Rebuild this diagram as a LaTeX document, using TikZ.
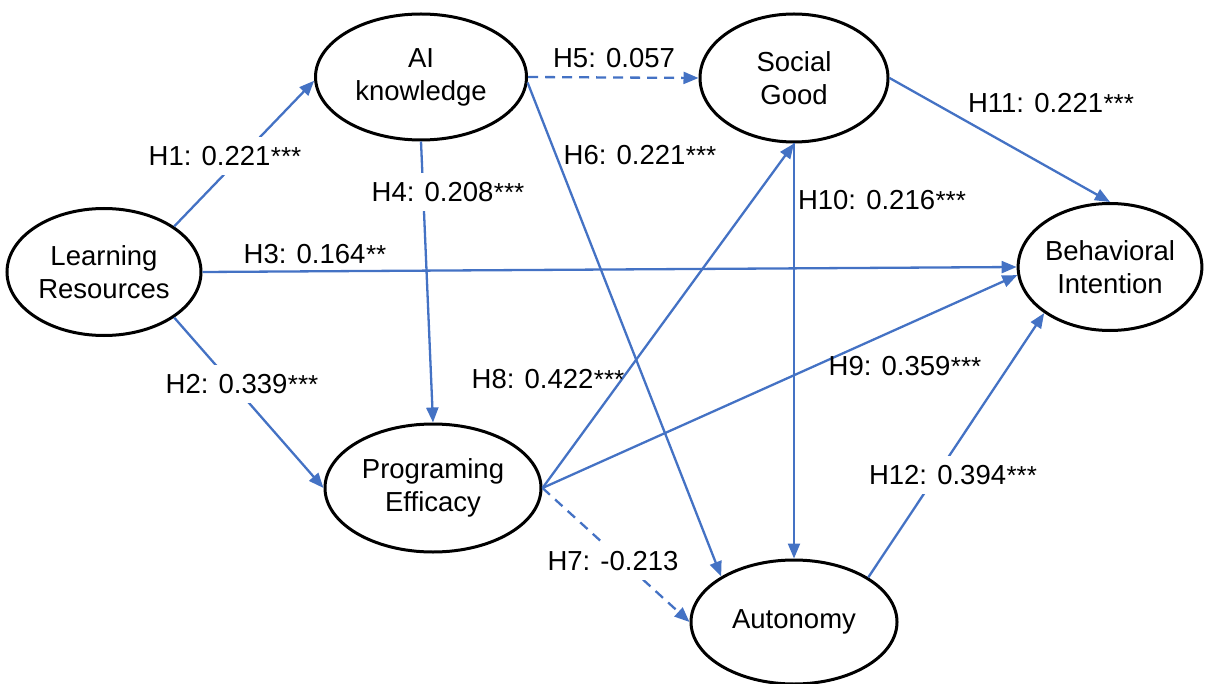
\documentclass[tikz,border=0pt]{standalone}
\usepackage{fontspec}
\setmainfont{Liberation Sans}
\usetikzlibrary{shapes.geometric,arrows.meta}
\definecolor{lineblue}{RGB}{68,114,196}
\newcommand{\sigstars}[1]{\kern0.5pt{\fontsize{26}{26}\selectfont #1}}
\begin{document}
\begin{tikzpicture}[x=1pt,y=-1pt,
  latent/.style={ellipse,draw=black,line width=3pt,inner sep=0pt,align=center,
    font=\fontsize{27.5}{33}\selectfont},
  path/.style={draw=lineblue,line width=2.3pt,-{Triangle[length=15pt,width=12pt]}},
  nspath/.style={path,dash pattern=on 10pt off 7pt},
  lab/.style={font=\fontsize{27.5}{32}\selectfont,inner sep=0pt},
  labw/.style={lab,fill=white,inner xsep=2pt,inner ysep=9pt}]
\useasboundingbox (0,0) rectangle (1206,684);
% constructs
\node[latent,minimum width=194pt,minimum height=127pt] (LR) at (104,272) {Learning\\Resources};
\node[latent,minimum width=211pt,minimum height=126pt] (AI) at (421,77) {AI\\knowledge};
\node[latent,minimum width=188pt,minimum height=128pt] (SG) at (794,78) {Social\\Good};
\node[latent,minimum width=180pt,minimum height=127pt] (BI) at (1110,267) {Behavioral\\Intention};
\node[latent,minimum width=216pt,minimum height=128pt] (PE) at (433,488) {Programing\\Efficacy};
\node[latent,minimum width=206pt,minimum height=124pt] (AU) at (794,622) {Autonomy};
% paths
\draw[path] (LR.33) -- (AI.182);
\draw[path] (LR.-33) -- (PE.180);
\draw[path] (LR.0) -- (BI.180);
\draw[path] (AI.-90) -- (PE.90);
\draw[nspath] (AI.0) -- (SG.180);
\draw[path] (AI.-3) -- (AU.148);
\draw[nspath] (PE.0) -- (AU.180);
\draw[path] (PE.0) -- (SG.-90);
\draw[path] (PE.0) -- (BI.185);
\draw[path] (SG.-90) -- (AU.90);
\draw[path] (SG.0) -- (BI.90);
\draw[path] (AU.31) -- (BI.215);
% labels
\node[labw] (h1) at (225,156) {H1: 0.221\sigstars{***}};
\node[labw] (h2) at (242,384) {H2: 0.339\sigstars{***}};
\node[lab] (h3) at (315,254) {H3: 0.164\sigstars{**}};
\node[labw] (h4) at (448,192) {H4: 0.208\sigstars{***}};
\node[lab] (h5) at (614,58) {H5: 0.057};
\node[lab] (h6) at (640,155) {H6: 0.221\sigstars{***}};
\node[labw] (h7) at (613,561) {H7: -0.213};
\node[lab] (h8) at (548,379) {H8: 0.422\sigstars{***}};
\node[lab] (h9) at (905,366) {H9: 0.359\sigstars{***}};
\node[lab] (h10) at (882,200) {H10: 0.216\sigstars{***}};
\node[lab] (h11) at (1051,103) {H11: 0.221\sigstars{***}};
\node[labw] (h12) at (953,475) {H12: 0.394\sigstars{***}};
\end{tikzpicture}
\end{document}
